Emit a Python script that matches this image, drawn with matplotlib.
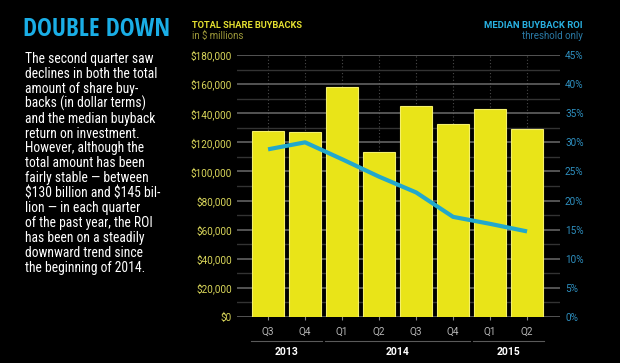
import matplotlib
matplotlib.use("Agg")
import matplotlib.pyplot as plt
import matplotlib.transforms as mtransforms
from matplotlib.ticker import MultipleLocator, FuncFormatter

# data
quarters = ["Q3", "Q4", "Q1", "Q2", "Q3", "Q4", "Q1", "Q2"]
years = ["2013", "2014", "2015"]
year_first = [0, 2, 6]
year_last = [1, 5, 7]
buybacks = [127500, 126800, 158000, 113500, 145000, 132500, 143000, 129000]  # $ millions
roi = [28.8, 30.0, 27.1, 24.1, 21.4, 17.2, 16.0, 14.7]  # %

body_lines = [
    "The second quarter saw",
    "declines in both the total",
    "amount of share buy-",
    "backs (in dollar terms)",
    "and the median buyback",
    "return on investment.",
    "However, although the",
    "total amount has been",
    "fairly stable \u2014 between",
    "\\$130 billion and \\$145 bil-",
    "lion \u2014 in each quarter",
    "of the past year, the ROI",
    "has been on a steadily",
    "downward trend since",
    "the beginning of 2014.",
]

BG = "#000000"
YELLOW = "#e9e418"
CYAN = "#22a8cc"
W, H = 620, 363

fig = plt.figure(figsize=(6.2, 3.63), dpi=100, facecolor=BG)


def fx(px):
    return px / W


def fy(py):
    return 1 - py / H


ax = fig.add_axes([fx(237), fy(317), fx(560) - fx(237), fy(55) - fy(317)])
ax.set_facecolor(BG)
x = list(range(len(quarters)))

# vertical dotted guides at each quarter
for xi in x:
    ax.axvline(xi, color="#4a4a4a", lw=0.8, ls=(0, (1, 2)), zorder=0)

ax.bar(x, buybacks, width=0.86, color=YELLOW, edgecolor="#f4f06a", lw=0.8, zorder=3)

ax.set_xlim(-0.84, 7.89)
ax.set_ylim(0, 180000)
ax.yaxis.set_major_locator(MultipleLocator(20000))
ax.yaxis.set_minor_locator(MultipleLocator(10000))
ax.yaxis.set_major_formatter(FuncFormatter(lambda v, p: f"${v:,.0f}"))
ax.grid(axis="y", which="major", color="#6a6a6a", lw=1.1, zorder=1)
ax.grid(axis="y", which="minor", color="#333333", lw=1.0, zorder=1)
ax.tick_params(axis="y", which="both", length=0, pad=3.6, labelsize=7.2,
               labelcolor="#d9d65a")
for lab in ax.get_yticklabels():
    lab.set_family("Roboto")
ax.set_xticks(x)
ax.set_xticklabels(quarters, family="Roboto", fontsize=7.2, color="#b5b5b5")
ax.tick_params(axis="x", direction="inout", length=5, width=0.8, color="#888888", pad=4.5)
for s in ax.spines.values():
    s.set_visible(False)

ax2 = ax.twinx()
ax2.plot(x, roi, color=CYAN, lw=3.0, solid_capstyle="butt", solid_joinstyle="round", zorder=5)
ax2.set_ylim(0, 45)
ax2.yaxis.set_major_locator(MultipleLocator(5))
ax2.yaxis.set_major_formatter(FuncFormatter(lambda v, p: f"{v:.0f}%"))
ax2.tick_params(axis="y", length=0, pad=3.6, labelsize=7.2, labelcolor="#2e8fbf")
for lab in ax2.get_yticklabels():
    lab.set_family("Roboto")
for s in ax2.spines.values():
    s.set_visible(False)

# year groups under the quarter labels
trans = mtransforms.blended_transform_factory(ax.transData, ax.transAxes)
y_line = (317 - 341) / (317 - 55)
y_year = (317 - 352) / (317 - 55)
for yr, a, b in zip(years, year_first, year_last):
    ax.plot([a - 0.47, b + 0.47], [y_line, y_line], transform=trans, color="#5a5a5a",
            lw=0.8, clip_on=False)
    ax.text((a + b) / 2, y_year, yr, transform=trans, ha="center", va="center",
            color="white", fontsize=7.5, fontweight="bold", family="Roboto")

# headers
fig.text(fx(192), fy(25), "TOTAL SHARE BUYBACKS", color="#e4e030", fontsize=6.7,
         fontweight="bold", family="Roboto", ha="left", va="center")
fig.text(fx(192), fy(36), "in $ millions", color="#9f9a3a", fontsize=7.0,
         family="Roboto", ha="left", va="center")
fig.text(fx(583), fy(25), "MEDIAN BUYBACK ROI", color="#29b0e0", fontsize=6.8,
         fontweight="bold", family="Roboto", ha="right", va="center")
fig.text(fx(583), fy(36), "threshold only", color="#2a7aa6", fontsize=7.0,
         family="Roboto", ha="right", va="center")

# left panel
fig.text(fx(23), fy(30), "DOUBLE DOWN", color="#1aaee6", fontsize=18,
         fontweight="bold", family="Open Sans Condensed", ha="left", va="center")
for i, line in enumerate(body_lines):
    fig.text(fx(25), fy(59 + i * 14.9), line, color="white", fontsize=9.8,
             family=["Roboto Condensed", "DejaVu Sans"], ha="left", va="center")

fig.savefig("out.png", dpi=100, facecolor=BG)
